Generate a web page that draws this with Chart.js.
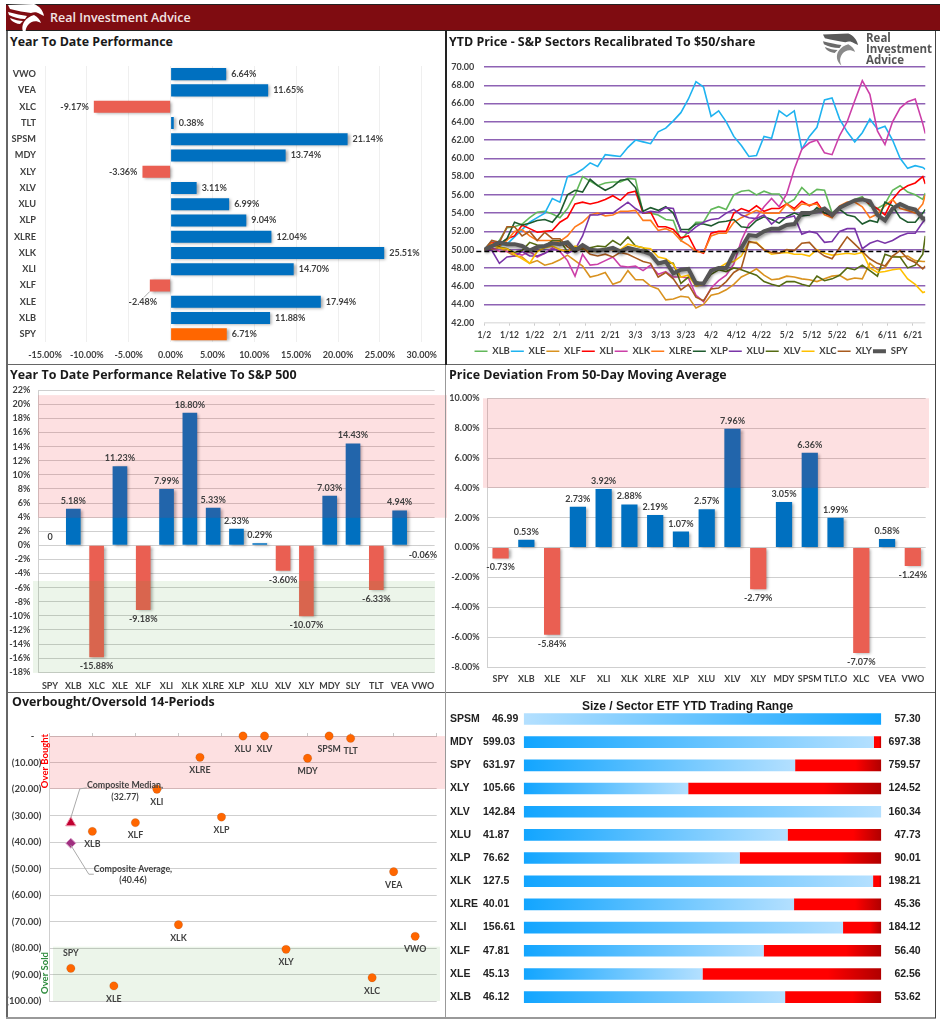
<!DOCTYPE html>
<html>
<head>
<meta charset="utf-8">
<title>Real Investment Advice</title>
<script src="https://cdn.jsdelivr.net/npm/chart.js"></script>
<style>
  html, body { margin: 0; padding: 0; background: #fff; }
  #page { position: relative; width: 940px; height: 1024px; overflow: hidden; background: #fff; font-family: "Open Sans", sans-serif; }
  canvas { position: absolute; }
  .rule { position: absolute; background: #666; }
  #brand { position: absolute; left: 6px; top: 4px; right: 0; height: 27px; background: #7f0c11; border-top: 1px solid #222; border-bottom: 1px solid #222; box-sizing: border-box; }
  #brand span { position: absolute; left: 44px; top: 4px; color: #f2e4e4; font: 600 12.5px "Open Sans", sans-serif; }
  .title { position: absolute; color: #1a1a1a; font: 700 12.45px "Open Sans", sans-serif; white-space: nowrap; z-index: 3; }
  .mark { position: absolute; z-index: 3; }
  #markText { position: absolute; left: 866px; top: 32px; color: #555; font: 700 11.5px/11px "Open Sans", sans-serif; z-index: 3; }
</style>
</head>
<body>
<div id="page">
  <div id="brand"><span>Real Investment Advice</span></div>
  <svg class="mark" style="left:7px;top:3px" width="38" height="34" viewBox="0 0 38 34">
    <path fill="#fff" d="M1 2 L27 1 C32 3 36 7 37 13 L33 11 C30 9 27 9 24 10 C18 9 10 8 3 6 Z"/>
    <path fill="#fff" d="M1 9 C8 11 15 12 20 13 L18 16 C12 16 6 14 2 12 Z"/>
    <path fill="#fff" d="M3 15 C8 17 12 18 16 18 L13 21 C10 21 6 19 4 17 Z"/>
    <path fill="#fff" d="M27 12 C31 14 33 17 34 20 C29 17 24 18 21 22 C18 26 18 30 20 34 C15 30 14 24 17 19 C20 15 23 13 27 12 Z"/>
  </svg>
  <svg class="mark" style="left:822px;top:32px" width="37" height="34" viewBox="0 0 38 34">
    <path fill="#5a5a5a" d="M1 2 L27 1 C32 3 36 7 37 13 L33 11 C30 9 27 9 24 10 C18 9 10 8 3 6 Z"/>
    <path fill="#6a6a6a" d="M1 9 C8 11 15 12 20 13 L18 16 C12 16 6 14 2 12 Z"/>
    <path fill="#7a7a7a" d="M3 15 C8 17 12 18 16 18 L13 21 C10 21 6 19 4 17 Z"/>
    <path fill="#8a8a8a" d="M27 12 C31 14 33 17 34 20 C29 17 24 18 21 22 C18 26 18 30 20 34 C15 30 14 24 17 19 C20 15 23 13 27 12 Z"/>
  </svg>
  <div id="markText">Real<br>Investment<br>Advice</div>

  <div class="title" style="left:10px;top:33px">Year To Date Performance</div>
  <div class="title" style="left:449px;top:33px">YTD Price - S&amp;P Sectors Recalibrated To $50/share</div>
  <div class="title" style="left:10px;top:366px">Year To Date Performance Relative To S&amp;P 500</div>
  <div class="title" style="left:449px;top:366px">Price Deviation From 50-Day Moving Average</div>
  <div class="title" style="left:12px;top:693px">Overbought/Oversold 14-Periods</div>
  <div class="title" style="left:582px;top:699px;font:700 12px 'Liberation Sans',sans-serif">Size / Sector ETF YTD Trading Range</div>

  <canvas id="perf" style="left:8px;top:50px" width="436" height="314"></canvas>
  <canvas id="sectors" style="left:447px;top:31px" width="487" height="335"></canvas>
  <canvas id="relative" style="left:8px;top:367px" width="439" height="323"></canvas>
  <canvas id="deviation" style="left:447px;top:367px" width="488" height="325"></canvas>
  <canvas id="overbought" style="left:8px;top:693px" width="437" height="324"></canvas>
  <canvas id="range" style="left:447px;top:693px" width="488" height="325"></canvas>

  <div class="rule" style="left:6px;top:31px;width:2px;height:987px"></div>
  <div class="rule" style="left:6px;top:364px;width:930px;height:1px"></div>
  <div class="rule" style="left:6px;top:692px;width:930px;height:1px"></div>
  <div class="rule" style="left:6px;top:1017px;width:930px;height:2px;background:#999"></div>
  <div class="rule" style="left:445px;top:31px;width:2px;height:334px;background:#222"></div>
  <div class="rule" style="left:445px;top:365px;width:1px;height:653px;background:#999"></div>
  <div class="rule" style="left:935px;top:31px;width:1px;height:987px;background:#444"></div>
</div>

<script>
// YTD performance
const perfTickers = ['VWO', 'VEA', 'XLC', 'TLT', 'SPSM', 'MDY', 'XLY', 'XLV', 'XLU', 'XLP', 'XLRE', 'XLK', 'XLI', 'XLF', 'XLE', 'XLB', 'SPY'];
const perfValues = [6.64, 11.65, -9.17, 0.38, 21.14, 13.74, -3.36, 3.11, 6.99, 9.04, 12.04, 25.51, 14.70, -2.48, 17.94, 11.88, 6.71];

// sector lines rebased to $50, sampled on day offsets from 1/2
const tickDates = ['1/2', '1/12', '1/22', '2/1', '2/11', '2/21', '3/3', '3/13', '3/23', '4/2', '4/12', '4/22', '5/2', '5/12', '5/22', '6/1', '6/11', '6/21'];
const dayOffsets = [
  0, 3, 6, 9, 12, 15, 18, 21, 24, 27,
  30, 33, 36, 39, 42, 45, 48, 51, 54, 57,
  60, 63, 66, 69, 72, 75, 78, 81, 84, 87,
  90, 93, 96, 99, 102, 105, 108, 111, 114, 117,
  120, 123, 126, 129, 132, 135, 138, 141, 144, 147,
  150, 153, 156, 159, 162, 165, 168, 171, 174, 175
];
const xlbPrices = [
  50, 50.3, 51, 52.4, 52.5, 52.8, 53.5, 54.1, 54.2, 53.9,
  53.5, 54.5, 56, 58, 57.5, 57, 57.3, 57.4, 57.4, 57.8,
  57.7, 54, 54, 53.8, 53.3, 53.2, 51, 52, 53, 53,
  54.4, 54.7, 54.4, 56, 56.4, 56.5, 56, 56.4, 56.1, 56.1,
  55, 55.5, 56.8, 56, 56.6, 56.5, 54, 54.5, 55, 55.5,
  55.8, 54.8, 54.5, 55, 56.5, 57, 56.3, 56, 55.5, 56.2
];
const xlePrices = [
  50, 51, 50.5, 50.6, 51.4, 52.2, 53, 53.5, 54, 55.6,
  55.2, 58, 58.3, 58.8, 59.5, 59.1, 60.4, 60.3, 60.2, 61.2,
  62, 61.8, 61.6, 62.9, 63.3, 64.1, 65, 66.5, 68.4, 67.8,
  64.6, 65.2, 64, 62.4, 61.4, 60.2, 60.3, 62.4, 62.2, 65.2,
  64.6, 65.2, 61, 62.4, 63.4, 66.4, 66.6, 64.3, 62.9, 61.8,
  62.8, 64.3, 63.2, 63.5, 62, 60, 58.9, 59.2, 59, 58.8
];
const xlfPrices = [
  50, 50, 50.2, 49.8, 49.3, 49.2, 48.5, 48.8, 48.3, 48.5,
  48.9, 49.4, 48.8, 48.2, 47, 47.2, 47.5, 46.2, 46.5, 47.7,
  46.7, 46.7, 46, 45.7, 44.5, 44.6, 44.9, 44.8, 43.6, 44,
  45, 45.2, 45.6, 46.2, 47, 47.4, 47.9, 47.2, 46.7, 46.8,
  47.1, 47, 46.8, 46.7, 46.5, 46.8, 47.1, 47.2, 46.7, 46.9,
  46.8, 48.5, 47.8, 48, 49.3, 49.2, 49.3, 48.8, 48.7, 48.7
];
const xliPrices = [
  50, 50.8, 50.5, 51.2, 51.5, 52.7, 52.3, 51.9, 52, 52.1,
  53, 53.5, 55, 55.2, 55, 55.2, 55.5, 55.9, 55.4, 56.2,
  56.4, 54, 54.1, 52.5, 52.5, 52.2, 51.3, 51.5, 49.9, 49.6,
  51.8, 52, 52, 54, 54.5, 54.2, 54.8, 54.2, 54.5, 54.5,
  55, 54.5, 55.3, 54.8, 55.2, 54, 53.6, 54.5, 55, 55.3,
  55.6, 55, 54.5, 53.8, 55.5, 56.5, 57, 57.3, 58, 57.2
];
const xlkPrices = [
  50, 50.2, 49.8, 49.8, 49.6, 49.4, 49.8, 49.2, 49.6, 50.2,
  49.8, 48.8, 47.1, 49.5, 48.3, 48.4, 48.8, 49.2, 48.2, 48.1,
  48.2, 47.7, 48.3, 47.3, 47.6, 47, 47, 46.9, 45, 44.3,
  45.8, 46.6, 47.2, 48.4, 51, 52.8, 53.5, 54.7, 55.6, 54.7,
  56.1, 58.8, 61, 61.7, 62, 60.6, 60.4, 62.5, 64, 66.3,
  68.5, 67, 63, 61.5, 64, 65.5, 66.2, 66.5, 63.8, 62.7
];
const xlrePrices = [
  50, 50.7, 50.4, 51, 52, 52.2, 51.5, 51, 51, 51,
  50.9, 51.5, 52.5, 53, 53.8, 54, 53.7, 53.8, 54.2, 54.2,
  54.3, 53.2, 53.2, 52.1, 52.3, 51.9, 51, 50.5, 49.8, 49.7,
  51.5, 51.8, 51.8, 53, 53.5, 53.9, 54.3, 54, 54, 54,
  55, 54.3, 55, 54.9, 55, 53.8, 53.5, 54.8, 55.2, 55.2,
  54.7, 53.5, 53.9, 54.8, 55.5, 54.5, 54.3, 54, 55, 56
];
const xlpPrices = [
  50, 50.5, 50.6, 51.2, 53, 52.7, 52.9, 53.2, 53.3, 53,
  54, 56, 56.5, 56.3, 57.7, 57, 56.5, 56.9, 57.6, 57.7,
  56.8, 54.2, 54.6, 54.3, 54.7, 54, 52.2, 52.2, 52.8, 52.8,
  52.6, 53, 53.1, 53.3, 52.5, 52.4, 53.2, 53.6, 53.3, 52.9,
  53.6, 54, 53.7, 53.8, 54.6, 54, 53.8, 54.4, 53.8, 53.6,
  52.8, 53.2, 53, 55.2, 54.8, 53.5, 53, 53, 54, 54.4
];
const xluPrices = [
  50, 49.9, 48.5, 49.2, 49.3, 49.8, 49.3, 49.3, 49.6, 50,
  50, 49.6, 50, 51.5, 53.8, 53.8, 54, 54, 54.6, 55.2,
  54.5, 54, 54.2, 54.1, 54.6, 54.5, 52, 51.8, 52.5, 53,
  53.3, 53.4, 54, 54.4, 53.8, 53.5, 53.4, 53.8, 52.8, 53.5,
  53.5, 53.7, 51.7, 52, 51.8, 50.8, 50.9, 52, 52.3, 52.3,
  50.1, 50.7, 51, 50.7, 51, 51.5, 51.8, 51.8, 53, 53.3
];
const xlvPrices = [
  50, 50.5, 50.3, 50.1, 49.7, 49.9, 50.8, 50.5, 50.4, 51,
  51, 49.8, 50.2, 50, 50.2, 50.4, 50.3, 51, 50.5, 51.4,
  50.4, 50.2, 49.6, 48.4, 48.6, 48.5, 46.3, 47, 46.5, 46.2,
  47.3, 47.8, 47.6, 48, 47.8, 47.5, 47.2, 46.5, 46.2, 46,
  46.5, 46.5, 46.2, 46, 47.1, 46.6, 46.8, 47.2, 48, 47.8,
  48.3, 47.7, 47.1, 49.5, 49.2, 49.2, 48, 48.3, 49.5, 51.5
];
const xlcPrices = [
  50, 50.5, 50.2, 50.1, 49.5, 49, 48.5, 49.8, 50.2, 50.4,
  50, 49.8, 50.4, 50.2, 49.8, 49.8, 50.1, 50, 50, 50.6,
  50.4, 50.2, 50.1, 49.2, 49, 48.4, 47, 47.2, 46, 46.2,
  47.8, 48, 48.5, 48.7, 49.3, 50.8, 50.8, 50, 49.5, 49.6,
  49.7, 49.5, 49.5, 49.3, 50, 49.6, 49.4, 49.5, 49.6, 49.5,
  49.7, 48, 47.5, 47.6, 47.8, 47.9, 46.8, 46.2, 45.3, 45.4
];
const xlyPrices = [
  50, 51, 50.8, 52.5, 52.5, 51.5, 52, 51, 51.9, 51.2,
  51.2, 50.3, 49.8, 50.2, 49.5, 49.3, 49.5, 49.2, 49.7, 49.5,
  49.1, 48.7, 48.5, 47, 47.5, 46.8, 45.6, 46.2, 44.8, 44.4,
  45.7, 45.8, 46.5, 47.5, 48, 50.9, 50.7, 50, 49.7, 49.6,
  50, 49.9, 50.7, 50.8, 49.9, 49.3, 49, 50.2, 51.4, 50.6,
  49.8, 49, 48.5, 48.2, 49.3, 49.9, 49, 48.6, 47.9, 48.2
];
const spyPrices = [
  50, 50.4, 50.8, 50.6, 50.6, 50.4, 49.9, 50.3, 50.4, 50.7,
  50.6, 50.8, 49.9, 50.5, 50, 49.9, 50, 50.2, 49.8, 50.2,
  50, 49.8, 49.5, 48.5, 48.7, 47.4, 47.8, 47.9, 46.3, 46.3,
  47.7, 48, 48, 49.6, 50.2, 51.6, 51.5, 52, 52.3, 52.3,
  52.7, 52.8, 54, 54, 54.2, 54.5, 53.8, 54.6, 55, 55.4,
  55.5, 55.3, 53.8, 53.2, 54.5, 55, 54.6, 54.4, 53.4, 53.4
];
const breakEven = 49.8;

// performance relative to the S&P 500
const relTickers = ['SPY', 'XLB', 'XLC', 'XLE', 'XLF', 'XLI', 'XLK', 'XLRE', 'XLP', 'XLU', 'XLV', 'XLY', 'MDY', 'SLY', 'TLT', 'VEA', 'VWO'];
const relValues = [0, 5.18, -15.88, 11.23, -9.18, 7.99, 18.80, 5.33, 2.33, 0.29, -3.60, -10.07, 7.03, 14.43, -6.33, 4.94, -0.06];

// deviation from the 50-day moving average
const devTickers = ['SPY', 'XLB', 'XLE', 'XLF', 'XLI', 'XLK', 'XLRE', 'XLP', 'XLU', 'XLV', 'XLY', 'MDY', 'SPSM', 'TLT.O', 'XLC', 'VEA', 'VWO'];
const devValues = [-0.73, 0.53, -5.84, 2.73, 3.92, 2.88, 2.19, 1.07, 2.57, 7.96, -2.79, 3.05, 6.36, 1.99, -7.07, 0.58, -1.24];

// overbought / oversold readings, slot is the position along the hidden x axis
const oscTickers = ['SPY', 'XLB', 'XLE', 'XLF', 'XLI', 'XLK', 'XLRE', 'XLP', 'XLU', 'XLV', 'XLY', 'MDY', 'SPSM', 'TLT', 'XLC', 'VEA', 'VWO'];
const oscSlots = [1, 2, 3, 4, 5, 6, 7, 8, 9, 10, 11, 12, 13, 14, 15, 16, 17];
const oscValues = [-87.7, -36, -94.3, -32.7, -20.1, -71.2, -8.05, -30.6, 0, 0, -80.5, -8.4, 0, -0.9, -91.2, -51.2, -75.6];
const compositeMedian = -32.77;
const compositeAverage = -40.46;

// YTD trading range, share of the range below the current price
const rangeTickers = ['SPSM', 'MDY', 'SPY', 'XLY', 'XLV', 'XLU', 'XLP', 'XLK', 'XLRE', 'XLI', 'XLF', 'XLE', 'XLB'];
const rangeLows = ['46.99', '599.03', '631.97', '105.66', '142.84', '41.87', '76.62', '127.5', '40.01', '156.61', '47.81', '45.13', '46.12'];
const rangeHighs = ['57.30', '697.38', '759.57', '124.52', '160.34', '47.73', '90.01', '198.21', '45.36', '184.12', '56.40', '62.56', '53.62'];
const rangeBelow = [100, 97.9, 75.9, 46, 100, 73.8, 60.4, 97.7, 75.6, 89.3, 67.1, 50, 73.1];
const rangeAbove = [0, 2.1, 24.1, 54, 0, 26.2, 39.6, 2.3, 24.4, 10.7, 32.9, 50, 26.9];

const BLUE = '#0070c0';
const RED = '#ea5f52';
const TEXT = '#404040';
const LABEL_FONT = 'bold 9px Lato, sans-serif';
const tickFont = { family: 'Lato, sans-serif', size: 9, weight: 'bold' };

Chart.defaults.animation = false;
Chart.defaults.responsive = false;
Chart.defaults.color = TEXT;
Chart.defaults.plugins.legend.display = false;
Chart.defaults.plugins.tooltip.enabled = false;

function percent(v) { return v.toFixed(2) + '%'; }
function posNeg(values) { return values.map(v => (v < 0 ? RED : BLUE)); }

function text(ctx, str, x, y, align, font, color) {
  ctx.save();
  ctx.font = font || LABEL_FONT;
  ctx.fillStyle = color || TEXT;
  ctx.textAlign = align || 'center';
  ctx.textBaseline = 'middle';
  ctx.fillText(str, x, y);
  ctx.restore();
}

function leader(ctx, points) {
  ctx.save();
  ctx.strokeStyle = '#aaa';
  ctx.lineWidth = 1;
  ctx.beginPath();
  points.forEach((p, i) => (i ? ctx.lineTo(p[0], p[1]) : ctx.moveTo(p[0], p[1])));
  ctx.stroke();
  ctx.restore();
}

// soft drop shadow behind the bars
const barShadow = {
  id: 'barShadow',
  beforeDatasetsDraw(chart) {
    const c = chart.ctx;
    c.save();
    c.shadowColor = 'rgba(0,0,0,0.35)';
    c.shadowBlur = 3;
    c.shadowOffsetX = 2;
    c.shadowOffsetY = 1;
  },
  afterDatasetsDraw(chart) { chart.ctx.restore(); }
};

// translucent shaded zones, value range on y and pixel range on x
function bands(list, under) {
  const hook = under ? 'beforeDatasetsDraw' : 'afterDatasetsDraw';
  return {
    id: 'bands',
    [hook](chart) {
      const y = chart.scales.y;
      list.forEach(b => {
        const top = y.getPixelForValue(b.from);
        chart.ctx.fillStyle = b.color;
        chart.ctx.fillRect(b.left, top, b.right - b.left, y.getPixelForValue(b.to) - top);
      });
    }
  };
}

// value labels above / below the columns
function columnLabels(values, fmt) {
  return {
    id: 'columnLabels',
    afterDatasetsDraw(chart) {
      chart.getDatasetMeta(0).data.forEach((bar, i) => {
        const v = values[i];
        text(chart.ctx, fmt(v), bar.x, v < 0 ? bar.y + 9 : bar.y - 8);
      });
    }
  };
}

function columnChart(id, tickers, values, opts) {
  return new Chart(document.getElementById(id), {
    type: 'bar',
    data: {
      labels: tickers,
      datasets: [{ data: values, backgroundColor: posNeg(values), categoryPercentage: 1, barPercentage: 0.63 }]
    },
    options: {
      layout: { padding: opts.padding },
      scales: {
        x: {
          grid: { display: false, drawTicks: false },
          border: { display: false },
          ticks: { font: tickFont, autoSkip: false, maxRotation: 0, padding: opts.xPad },
          afterFit(s) { s.height = opts.xHeight; }
        },
        y: {
          min: opts.min, max: opts.max,
          grid: { color: '#cfcfcf', drawTicks: false },
          border: { color: '#cfcfcf' },
          ticks: { stepSize: 2, font: tickFont, padding: 8, callback: opts.tick },
          afterFit(s) { s.width = opts.yWidth; }
        }
      }
    },
    plugins: [barShadow, bands(opts.bands), columnLabels(values, opts.fmt)]
  });
}

// top left, horizontal bars
new Chart(document.getElementById('perf'), {
  type: 'bar',
  data: {
    labels: perfTickers,
    datasets: [{
      data: perfValues,
      backgroundColor: perfTickers.map((t, i) => (t === 'SPY' ? '#ff6600' : posNeg(perfValues)[i])),
      categoryPercentage: 1,
      barPercentage: 0.74
    }]
  },
  options: {
    indexAxis: 'y',
    layout: { padding: { top: 16, right: 21 } },
    scales: {
      x: {
        min: -15, max: 30,
        grid: { color: '#efefef', drawTicks: false },
        border: { display: false },
        ticks: { stepSize: 5, font: tickFont, padding: 7, maxRotation: 0, callback: percent },
        afterFit(s) { s.height = 21.6; }
      },
      y: {
        grid: { display: false, drawTicks: false },
        border: { display: false },
        ticks: { font: { family: 'Lato, sans-serif', size: 9.2, weight: 'bold' }, autoSkip: false, padding: 9 },
        afterFit(s) { s.width = 37; }
      }
    }
  },
  plugins: [barShadow, {
    id: 'barLabels',
    afterDatasetsDraw(chart) {
      const ctx = chart.ctx;
      chart.getDatasetMeta(0).data.forEach((bar, i) => {
        const v = perfValues[i];
        if (perfTickers[i] === 'XLF') {
          leader(ctx, [[bar.x, bar.y + 6], [bar.x - 6, bar.y + 12]]);
          text(ctx, percent(v), bar.x - 7, bar.y + 17);
        } else if (v < 0) {
          text(ctx, percent(v), bar.x - 5, bar.y, 'right');
        } else {
          text(ctx, percent(v), bar.x + 5, bar.y, 'left');
        }
      });
    }
  }]
});

// top right, sector lines
const sectorNames = ['XLB', 'XLE', 'XLF', 'XLI', 'XLK', 'XLRE', 'XLP', 'XLU', 'XLV', 'XLC', 'XLY', 'SPY'];
const sectorSeries = [xlbPrices, xlePrices, xlfPrices, xliPrices, xlkPrices, xlrePrices, xlpPrices, xluPrices, xlvPrices, xlcPrices, xlyPrices, spyPrices];
const sectorColors = ['#62b85a', '#1fb3f0', '#d9921f', '#ff0000', '#cc3fa8', '#ff7a1a', '#1e5b2e', '#7a35a8', '#556b12', '#ffc000', '#a85a1e', '#555555'];

new Chart(document.getElementById('sectors'), {
  type: 'line',
  data: {
    datasets: sectorNames.map((name, i) => ({
      label: name,
      data: dayOffsets.map((d, k) => ({ x: d, y: sectorSeries[i][k] })),
      borderColor: sectorColors[i],
      backgroundColor: sectorColors[i],
      borderWidth: name === 'SPY' ? 4 : 1.6,
      pointRadius: 0,
      tension: 0,
      order: sectorNames.length - i
    }))
  },
  options: {
    layout: { padding: { top: 36, right: 8.7, bottom: 0 } },
    plugins: {
      legend: {
        display: true,
        position: 'bottom',
        labels: {
          boxWidth: 13, boxHeight: 0, padding: 1,
          font: { family: 'Lato, sans-serif', size: 9.5, weight: 'bold' },
          sort: (a, b) => a.datasetIndex - b.datasetIndex
        }
      }
    },
    scales: {
      x: {
        type: 'linear', min: 0, max: 175,
        grid: { drawOnChartArea: false, color: '#cccccc', tickLength: 3 },
        border: { display: false },
        ticks: {
          stepSize: 10, includeBounds: false, font: { family: 'Lato, sans-serif', size: 8.5, weight: 'bold' },
          autoSkip: false, maxRotation: 0, padding: 4,
          callback: v => tickDates[v / 10]
        },
        afterFit(s) { s.height = 22.8; }
      },
      y: {
        min: 42, max: 70,
        grid: { drawTicks: false, lineWidth: 1.4, color: c => (c.tick.value === 42 ? '#e2e2e2' : '#8e62b4') },
        border: { display: false },
        ticks: { stepSize: 2, font: tickFont, padding: 10, callback: v => v.toFixed(2) },
        afterFit(s) { s.width = 37.3; }
      }
    }
  },
  plugins: [{
    // sits a little right of the canvas centre
    id: 'legendNudge',
    afterLayout(chart) {
      chart.legend.left += 5;
      chart.legend.right += 5;
    }
  }, {
    id: 'spyShadow',
    beforeDatasetDraw(chart, args) {
      if (sectorNames[args.index] !== 'SPY') return;
      const c = chart.ctx;
      c.save();
      c.shadowColor = 'rgba(0,0,0,0.4)';
      c.shadowBlur = 3;
      c.shadowOffsetX = 1;
      c.shadowOffsetY = 2;
    },
    afterDatasetDraw(chart, args) {
      if (sectorNames[args.index] === 'SPY') chart.ctx.restore();
    }
  }, {
    id: 'breakEvenLine',
    afterDatasetsDraw(chart) {
      const c = chart.ctx;
      const y = chart.scales.y.getPixelForValue(breakEven);
      c.save();
      c.strokeStyle = '#000';
      c.lineWidth = 1.5;
      c.setLineDash([5, 3]);
      c.beginPath();
      c.moveTo(chart.chartArea.left - 8, y);
      c.lineTo(chart.chartArea.right + 7, y);
      c.stroke();
      c.restore();
    }
  }]
});

// middle row
columnChart('relative', relTickers, relValues, {
  padding: { top: 23.2, right: 12.4 },
  xHeight: 17.8, xPad: 8.5, yWidth: 30.35, min: -18, max: 22,
  tick: v => v + '%',
  fmt: v => (v === 0 ? '0' : percent(v)),
  bands: [
    { from: 21.3, to: 3.9, left: 30, right: 439, color: 'rgba(240,34,40,0.14)' },
    { from: -5.06, to: -18.1, left: 25, right: 427, color: 'rgba(65,155,45,0.1)' }
  ]
});

columnChart('deviation', devTickers, devValues, {
  padding: { top: 31.3, right: 9.3 },
  xHeight: 25, xPad: 7, yWidth: 40.7, min: -8, max: 10,
  tick: percent,
  fmt: percent,
  bands: [{ from: 10, to: 4, left: 36, right: 482, color: 'rgba(240,34,40,0.14)' }]
});

// bottom left, oscillator scatter
new Chart(document.getElementById('overbought'), {
  type: 'scatter',
  data: {
    datasets: [{
      data: oscSlots.map((s, i) => ({ x: s, y: oscValues[i] })),
      backgroundColor: '#ff6600',
      pointRadius: 4.2
    }, {
      data: [{ x: 1, y: compositeMedian }],
      backgroundColor: '#c00030',
      borderColor: '#f09ab0',
      borderWidth: 1,
      pointStyle: 'triangle',
      pointRadius: 6
    }, {
      data: [{ x: 1, y: compositeAverage }],
      backgroundColor: '#a03080',
      borderColor: '#d8a0c8',
      borderWidth: 1,
      pointStyle: 'rectRot',
      pointRadius: 5
    }]
  },
  options: {
    clip: false,
    layout: { padding: { top: 38, right: 8.3, bottom: 16 } },
    scales: {
      x: {
        type: 'linear', position: 'top', min: 0, max: 18,
        grid: { drawOnChartArea: false, color: '#c8c8c8', tickLength: 3 },
        border: { color: '#c8c8c8' },
        ticks: { stepSize: 2, display: false },
        afterFit(s) { s.height = 5; }
      },
      y: {
        min: -100, max: 0,
        grid: { color: '#cfcfcf', drawTicks: false },
        border: { color: '#cfcfcf' },
        ticks: {
          stepSize: 10, font: { family: 'Lato, sans-serif', size: 9.5, weight: 'bold' }, padding: 8,
          callback: v => (v === 0 ? '-\u00a0\u00a0\u00a0' : '(' + (-v).toFixed(2) + ')')
        },
        afterFit(s) { s.width = 41.3; }
      }
    }
  },
  plugins: [bands([
    { from: 0, to: -20, left: 42, right: 437, color: 'rgba(240,34,40,0.14)' },
    { from: -79.5, to: -100, left: 45, right: 432, color: 'rgba(65,155,45,0.1)' }
  ], true), {
    id: 'oscLabels',
    afterDatasetsDraw(chart) {
      const c = chart.ctx;
      const font = 'bold 8.8px Lato, sans-serif';
      chart.getDatasetMeta(0).data.forEach((pt, i) => {
        text(c, oscTickers[i], pt.x, oscTickers[i] === 'SPY' ? pt.y - 15 : pt.y + 13, 'center', font);
      });

      const med = chart.getDatasetMeta(1).data[0];
      const avg = chart.getDatasetMeta(2).data[0];
      leader(c, [[med.x, med.y - 5], [med.x + 9, med.y - 34], [med.x + 16, med.y - 35]]);
      leader(c, [[avg.x, avg.y + 2], [avg.x + 18, avg.y + 31], [avg.x + 23, avg.y + 31]]);
      text(c, 'Composite Median,', 117, 92, 'center', font);
      text(c, '(32.77)', 117, 104, 'center', font);
      text(c, 'Composite Average,', 125, 176, 'center', font);
      text(c, '(40.46)', 125, 187, 'center', font);

      // zone captions run up the y axis
      [['Over Bought', '#ff0000', 68], ['Over Sold', '#2e8b3d', 280]].forEach(z => {
        c.save();
        c.translate(37, z[2]);
        c.rotate(-Math.PI / 2);
        text(c, z[0], 0, 0, 'center', 'bold 9.5px Lato, sans-serif', z[1]);
        c.restore();
      });
    }
  }]
});

// bottom right, trading range bars
function rangeFill(context) {
  const i = context.dataIndex;
  const x = context.chart.scales.x;
  const below = context.datasetIndex === 0;
  const dark = '#12a5ff', light = '#b4e0ff';
  const start = x.getPixelForValue(below ? 0 : rangeBelow[i]);
  const end = x.getPixelForValue(100);
  const stop = below ? x.getPixelForValue(rangeBelow[i]) : end;
  // scales have no pixel range on the first pass through the options
  if (!isFinite(start) || !isFinite(stop)) return below ? dark : '#ff0000';
  const g = context.chart.ctx.createLinearGradient(start, 0, stop, 0);
  if (below) {
    // the top row runs light to dark, the others dark to light
    g.addColorStop(0, rangeTickers[i] === 'SPSM' ? light : dark);
    g.addColorStop(1, rangeTickers[i] === 'SPSM' ? dark : light);
  } else {
    g.addColorStop(0, '#ff0000');
    g.addColorStop(0.7, '#ff0000');
    g.addColorStop(1, '#b00000');
  }
  return g;
}

const rangeFont = 'bold 10.5px "Liberation Sans", sans-serif';
new Chart(document.getElementById('range'), {
  type: 'bar',
  data: {
    labels: rangeTickers,
    datasets: [
      { data: rangeBelow, backgroundColor: rangeFill, categoryPercentage: 1, barPercentage: 0.5 },
      { data: rangeAbove, backgroundColor: rangeFill, categoryPercentage: 1, barPercentage: 0.5 }
    ]
  },
  options: {
    indexAxis: 'y',
    layout: { padding: { top: 14.4, right: 53.7, bottom: 1, left: 3 } },
    scales: {
      x: { display: false, stacked: true, min: 0, max: 100 },
      y: {
        stacked: true,
        grid: { display: false, drawTicks: false },
        border: { display: false },
        ticks: {
          autoSkip: false, crossAlign: 'far', color: '#222',
          font: { family: '"Liberation Sans", sans-serif', size: 10.5, weight: 'bold' }
        },
        afterFit(s) { s.width = 73.7; }
      }
    }
  },
  plugins: [{
    id: 'rangeValues',
    afterDatasetsDraw(chart) {
      const y = chart.scales.y;
      rangeTickers.forEach((t, i) => {
        const py = y.getPixelForValue(i);
        text(chart.ctx, rangeLows[i], t === 'SPSM' ? 45 : 36, py, 'left', rangeFont, '#222');
        text(chart.ctx, rangeHighs[i], 473.7, py, 'right', rangeFont, '#222');
      });
    }
  }]
});
</script>
</body>
</html>
